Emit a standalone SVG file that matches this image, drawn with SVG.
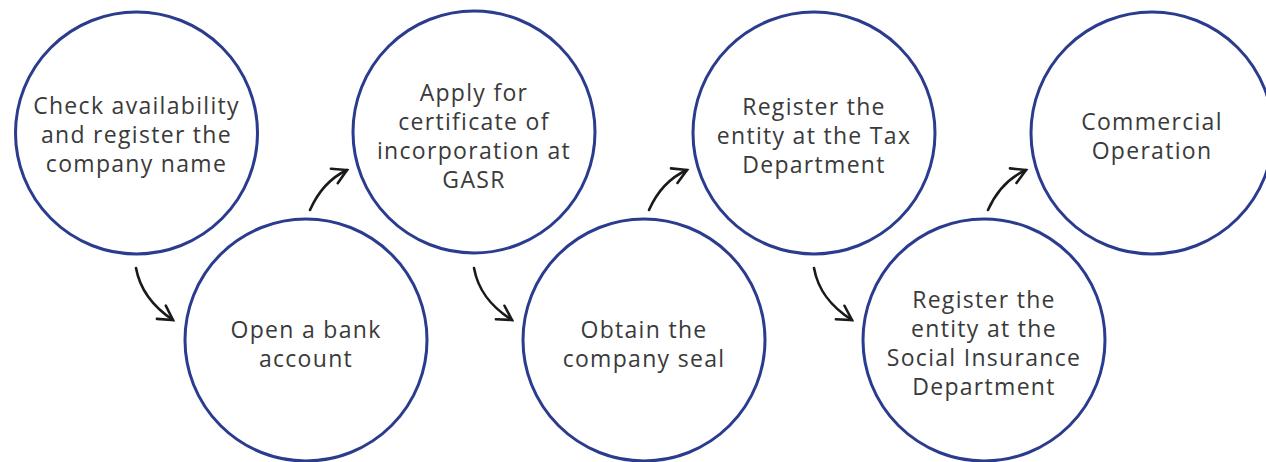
<svg xmlns="http://www.w3.org/2000/svg" width="1266" height="462" viewBox="0 0 1266 462">
<style>
.node circle{fill:#fff;stroke:#2b3c8e;stroke-width:3}
.node text{font-family:"Open Sans","DejaVu Sans",sans-serif;font-size:23px;letter-spacing:1.3px;fill:#3a3a3a;text-anchor:middle}
.conn path{fill:none;stroke:#1a1a1a;stroke-width:2.6;stroke-linecap:round}
</style>
<defs>
<marker id="ah" markerUnits="userSpaceOnUse" viewBox="-17 -11 20 22" markerWidth="20" markerHeight="22" refX="0" refY="0" orient="auto">
<path d="M-14,-8 L0,0 L-14,8" fill="none" stroke="#1a1a1a" stroke-width="2.6" stroke-linecap="round" stroke-linejoin="miter"/>
</marker>
</defs>
<rect width="1266" height="462" fill="#fff"/>
<g id="n1" class="node"><circle cx="136.5" cy="133" r="121"/>
<text x="136.5" y="114">Check availability</text><text x="136.5" y="143">and register the</text><text x="136.5" y="172">company name</text></g>
<g id="n2" class="node"><circle cx="306" cy="340" r="121"/>
<text x="306" y="338">Open a bank</text><text x="306" y="367">account</text></g>
<g id="n3" class="node"><circle cx="474" cy="132" r="121"/>
<text x="474" y="101">Apply for</text><text x="474" y="130">certificate of</text><text x="474" y="159">incorporation at</text><text x="474" y="188">GASR</text></g>
<g id="n4" class="node"><circle cx="644" cy="340" r="121"/>
<text x="644" y="338">Obtain the</text><text x="644" y="367">company seal</text></g>
<g id="n5" class="node"><circle cx="814" cy="133" r="121"/>
<text x="814" y="115">Register the</text><text x="814" y="144">entity at the Tax</text><text x="814" y="173">Department</text></g>
<g id="n6" class="node"><circle cx="984" cy="340" r="121"/>
<text x="984" y="308">Register the</text><text x="984" y="337">entity at the</text><text x="984" y="366">Social Insurance</text><text x="984" y="395">Department</text></g>
<g id="n7" class="node"><circle cx="1152" cy="133" r="121"/>
<text x="1152" y="130">Commercial</text><text x="1152" y="159">Operation</text></g>
<g id="connectors" class="conn">
<path d="M136,268 C140,290 152,306 173,320" marker-end="url(#ah)"/>
<path d="M310,210 C318,192 330,178 347,170" marker-end="url(#ah)"/>
<path d="M474,268 C478,290 490,306 512,320" marker-end="url(#ah)"/>
<path d="M649,210 C657,192 669,178 687,170" marker-end="url(#ah)"/>
<path d="M814,268 C818,290 830,306 852,320" marker-end="url(#ah)"/>
<path d="M988,210 C996,192 1008,178 1026,170" marker-end="url(#ah)"/>
</g>
</svg>
